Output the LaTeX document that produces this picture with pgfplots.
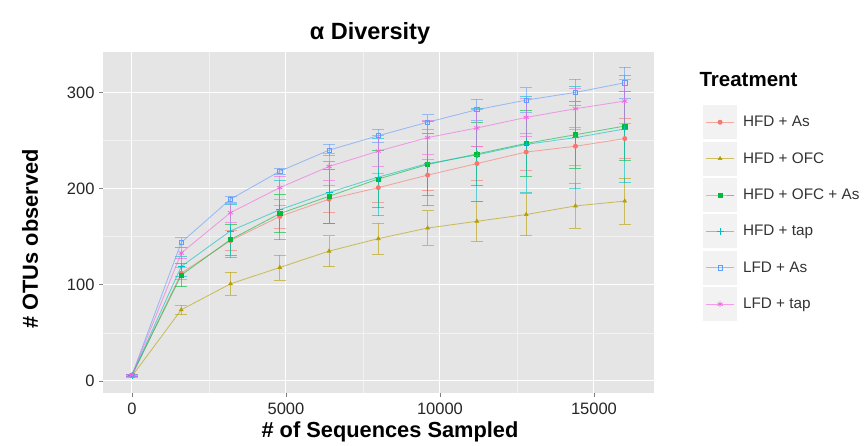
\documentclass[border=0pt]{standalone}
\usepackage{fontspec}
\setmainfont{Liberation Sans}
\usepackage{pgfplots}
\pgfplotsset{compat=1.18}
\usepackage{pgfplotstable}

\definecolor{cR}{HTML}{F8766D}
\definecolor{cO}{HTML}{B79F00}
\definecolor{cG}{HTML}{00BA38}
\definecolor{cC}{HTML}{00BFC4}
\definecolor{cB}{HTML}{619CFF}
\definecolor{cP}{HTML}{F564E3}
\definecolor{panel}{HTML}{E5E5E5}
\definecolor{keybg}{HTML}{F2F2F2}
\definecolor{minorgrid}{HTML}{F2F2F2}
\definecolor{tickgrey}{HTML}{7F7F7F}

\pgfplotstableread{
x y e
0 6 1
1600 112 6
3200 146 10
4800 171 12
6400 189 14
8000 201 15
9600 214 16
11200 226 18
12800 238 19
14400 244 20
16000 252 21
}\tHFDAs
\pgfplotstableread{
x y e
0 5 1
1600 74 5
3200 101 12
4800 118 13
6400 135 16
8000 148 16
9600 159 18
11200 166 21
12800 173 22
14400 182 23
16000 187 24
}\tHFDOFC
\pgfplotstableread{
x y e
0 6 1
1600 110 12
3200 147 16
4800 174 20
6400 192 28
8000 210 30
9600 225 32
11200 236 33
12800 247 34
14400 256 35
16000 265 36
}\tHFDOFCAs
\pgfplotstableread{
x y e
0 6 1
1600 119 10
3200 156 28
4800 178 31
6400 196 32
8000 212 40
9600 226 44
11200 235 48
12800 246 50
14400 253 53
16000 262 56
}\tHFDtap
\pgfplotstableread{
x y e
0 6 1
1600 144 5
3200 189 3
4800 218 3
6400 240 6
8000 255 7
9600 269 8
11200 282 11
12800 292 13
14400 300 14
16000 310 16
}\tLFDAs
\pgfplotstableread{
x y e
0 6 1
1600 133 6
3200 175 10
4800 201 12
6400 223 14
8000 239 16
9600 253 18
11200 263 19
12800 274 20
14400 283 21
16000 291 23
}\tLFDtap

\pgfplotsset{
  series/.style={
    color=#1, line width=0.85pt, draw opacity=0.6,
    mark size=2.1pt,
    mark options={solid, draw opacity=1, fill opacity=1, line width=0.7pt},
    error bars/y dir=both, error bars/y explicit,
    error bars/error bar style={line width=0.85pt, opacity=0.6, color=#1},
    error bars/error mark options={rotate=90, mark size=6pt, line width=0.85pt, opacity=0.6, color=#1},
  },
}

\begin{document}
\begin{tikzpicture}[x=1pt,y=1pt]
\path[use as bounding box] (0,0) rectangle (864,445);
\begin{axis}[
  at={(103pt,52pt)}, anchor=south west,
  width=551pt, height=341pt, scale only axis,
  xmin=-940, xmax=16950, ymin=-12.5, ymax=342,
  axis background/.style={fill=panel},
  axis line style={draw=none},
  xtick={0,5000,10000,15000}, minor xtick={2500,7500,12500},
  ytick={0,100,200,300}, minor ytick={50,150,250},
  xtick pos=bottom, ytick pos=left,
  grid=both,
  major grid style={white, line width=1pt},
  minor grid style={minorgrid, line width=0.5pt},
  tick align=outside, major tick length=4pt, minor tick length=0pt,
  tick style={tickgrey, line width=0.8pt},
  scaled x ticks=false,
  /pgf/number format/1000 sep={},
  /pgf/number format/assume math mode=true,
  ticklabel style={font=\fontsize{16.5}{18}\selectfont, text=black!85},
  xticklabel style={yshift=-2pt},
  yticklabel style={xshift=-1pt},
  legend style={
    at={(1.089,0.844)}, anchor=north west,
    draw=none, fill=none, inner sep=0pt, outer sep=0pt,
    font=\fontsize{15.3}{17}\selectfont, text=black!80,
    row sep=2.4pt,
    nodes={inner xsep=6pt, inner ysep=0pt, anchor=west},
  },
  legend cell align=left,
  legend image code/.code={%
    \fill[keybg, draw=none, opacity=1] (0pt,-17pt) rectangle (34pt,17pt);
    \draw[mark repeat=2, mark phase=2, #1] plot coordinates {(3pt,0pt) (17pt,0pt) (31pt,0pt)};
  },
]
\addplot[series=cR, mark=*] table[x=x, y=y, y error=e] {\tHFDAs};
\addlegendentry{HFD + As}
\addplot[series=cO, mark=triangle*] table[x=x, y=y, y error=e] {\tHFDOFC};
\addlegendentry{HFD + OFC}
\addplot[series=cG, mark=square*] table[x=x, y=y, y error=e] {\tHFDOFCAs};
\addlegendentry{HFD + OFC + As}
\addplot[series=cC, mark=+, mark size=3.5pt] table[x=x, y=y, y error=e] {\tHFDtap};
\addlegendentry{HFD + tap}
\addplot[series=cB, mark=square] table[x=x, y=y, y error=e] {\tLFDAs};
\addlegendentry{LFD + As}
\addplot[series=cP, mark=asterisk, mark size=3pt] table[x=x, y=y, y error=e] {\tLFDtap};
\addlegendentry{LFD + tap}
\end{axis}
\node[font=\bfseries\fontsize{23.5}{26}\selectfont] at (370,412) {α Diversity};
\node[font=\bfseries\fontsize{21.8}{24}\selectfont] at (390,13) {\# of Sequences Sampled};
\node[font=\bfseries\fontsize{21.8}{24}\selectfont, rotate=90] at (30,206) {\# OTUs observed};
\node[font=\bfseries\fontsize{20.5}{22}\selectfont, anchor=west] at (696,365) {Treatment};
\end{tikzpicture}
\end{document}
